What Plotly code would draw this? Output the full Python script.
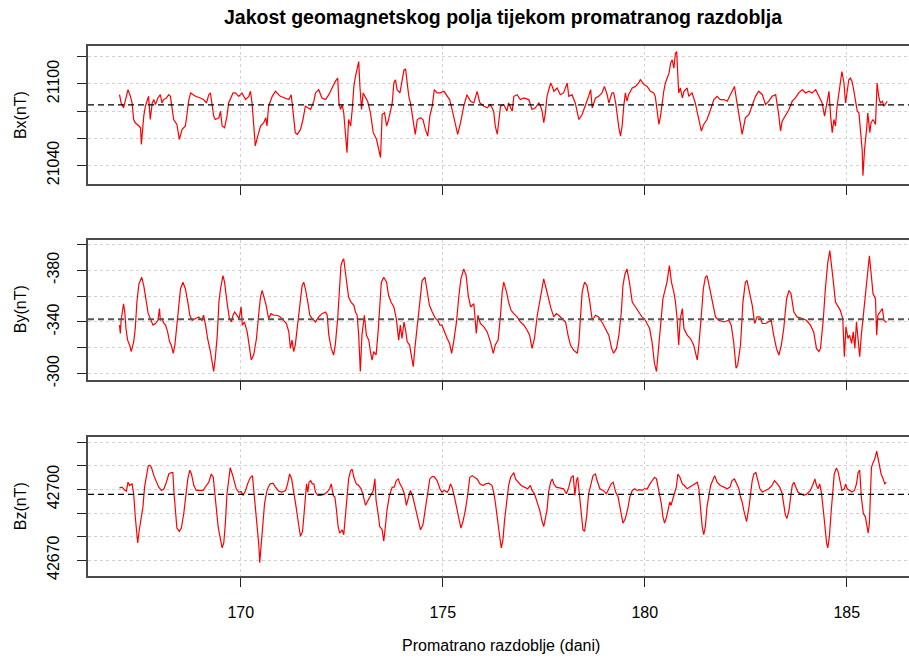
import plotly.graph_objects as go

# ---------------- data ----------------
bx_data = [
[167.00,21092.1],[167.04,21086.0],[167.10,21082.4],[167.15,21089.7],[167.21,21095.8],[167.27,21090.9],
[167.31,21086.0],[167.35,21073.8],[167.39,21071.4],[167.48,21069.0],[167.52,21067.7],[167.54,21055.5],
[167.57,21066.5],[167.60,21076.3],[167.64,21083.6],[167.68,21087.3],[167.72,21090.9],[167.76,21073.8],
[167.81,21086.0],[167.85,21088.5],[167.89,21084.8],[167.95,21089.7],[168.01,21092.1],[168.05,21086.0],
[168.09,21088.5],[168.16,21089.7],[168.22,21092.1],[168.26,21090.9],[168.30,21083.6],[168.34,21073.8],
[168.42,21070.2],[168.48,21059.2],[168.55,21066.5],[168.63,21069.0],[168.67,21077.5],[168.71,21087.3],
[168.76,21093.4],[168.88,21090.9],[169.00,21089.7],[169.08,21088.5],[169.15,21086.0],[169.21,21092.1],
[169.25,21093.4],[169.29,21086.0],[169.33,21076.3],[169.37,21073.8],[169.46,21075.1],[169.50,21079.9],
[169.54,21069.0],[169.60,21067.7],[169.66,21076.3],[169.70,21086.0],[169.75,21089.7],[169.81,21093.4],
[169.87,21093.4],[169.95,21090.9],[170.03,21093.4],[170.12,21088.5],[170.20,21090.9],[170.24,21094.6],
[170.28,21086.0],[170.32,21069.0],[170.36,21054.3],[170.40,21059.2],[170.49,21069.0],[170.57,21071.4],
[170.62,21075.1],[170.65,21069.0],[170.69,21083.6],[170.78,21090.9],[170.86,21094.6],[170.98,21090.9],
[171.11,21089.7],[171.19,21088.5],[171.25,21092.1],[171.30,21079.9],[171.35,21064.1],[171.40,21062.9],
[171.48,21066.5],[171.54,21073.8],[171.60,21083.6],[171.73,21081.2],[171.81,21087.3],[171.85,21093.4],
[171.93,21095.8],[172.01,21089.7],[172.10,21088.5],[172.18,21092.1],[172.26,21097.0],[172.34,21101.9],
[172.40,21104.3],[172.43,21086.0],[172.47,21081.2],[172.51,21084.8],[172.55,21078.7],[172.59,21066.5],
[172.63,21049.4],[172.67,21073.8],[172.72,21069.0],[172.76,21081.2],[172.80,21098.2],[172.84,21105.6],
[172.88,21110.4],[172.92,21116.5],[172.95,21098.2],[172.99,21081.2],[173.03,21093.4],[173.09,21089.7],
[173.14,21087.3],[173.21,21078.7],[173.28,21064.1],[173.36,21059.2],[173.42,21051.9],[173.46,21045.8],
[173.50,21077.5],[173.56,21078.7],[173.61,21069.0],[173.66,21073.8],[173.75,21086.0],[173.79,21100.7],
[173.83,21103.1],[173.87,21095.8],[173.94,21093.4],[173.99,21100.7],[174.04,21110.4],[174.08,21110.9],
[174.12,21098.2],[174.16,21090.9],[174.20,21086.0],[174.27,21071.4],[174.32,21062.9],[174.37,21073.8],
[174.45,21075.1],[174.51,21073.8],[174.57,21066.5],[174.63,21061.6],[174.68,21076.3],[174.74,21083.6],
[174.79,21095.8],[174.86,21093.4],[174.94,21093.4],[175.03,21094.6],[175.11,21090.9],[175.17,21088.5],
[175.23,21081.2],[175.31,21071.4],[175.37,21062.9],[175.44,21071.4],[175.52,21083.6],[175.60,21092.1],
[175.69,21087.3],[175.77,21086.0],[175.85,21094.6],[175.92,21086.0],[176.02,21083.6],[176.10,21082.4],
[176.18,21084.8],[176.26,21079.9],[176.30,21069.0],[176.35,21062.9],[176.39,21071.4],[176.43,21083.6],
[176.51,21084.8],[176.59,21079.9],[176.63,21086.0],[176.72,21079.9],[176.76,21090.9],[176.84,21092.1],
[176.92,21088.5],[177.01,21089.7],[177.13,21088.5],[177.21,21081.2],[177.29,21082.4],[177.38,21086.0],
[177.42,21083.6],[177.46,21079.9],[177.50,21071.4],[177.54,21078.7],[177.58,21090.9],[177.67,21100.7],
[177.71,21098.2],[177.75,21094.6],[177.83,21097.0],[177.91,21092.1],[177.99,21093.4],[178.08,21100.7],
[178.12,21090.9],[178.20,21092.1],[178.28,21086.0],[178.37,21073.8],[178.45,21077.5],[178.53,21083.6],
[178.61,21090.9],[178.66,21095.8],[178.70,21082.4],[178.78,21089.7],[178.86,21090.9],[178.94,21093.4],
[179.00,21098.2],[179.07,21092.1],[179.11,21086.0],[179.19,21093.4],[179.23,21093.4],[179.28,21086.0],
[179.32,21076.3],[179.36,21067.7],[179.40,21061.6],[179.44,21069.0],[179.48,21083.6],[179.52,21093.4],
[179.56,21087.3],[179.60,21092.1],[179.69,21097.0],[179.77,21098.2],[179.85,21100.7],[179.89,21103.1],
[179.98,21099.5],[180.06,21098.2],[180.14,21094.6],[180.22,21093.4],[180.26,21090.9],[180.31,21079.9],
[180.35,21070.2],[180.39,21076.3],[180.43,21086.0],[180.47,21094.6],[180.51,21100.7],[180.60,21108.0],
[180.64,21115.3],[180.68,21117.8],[180.72,21111.7],[180.76,21122.6],[180.79,21123.9],[180.82,21110.4],
[180.84,21093.4],[180.88,21097.0],[180.93,21089.7],[180.97,21094.6],[181.05,21097.0],[181.09,21090.9],
[181.17,21093.4],[181.25,21086.0],[181.34,21073.8],[181.40,21065.3],[181.46,21070.2],[181.54,21073.8],
[181.63,21081.2],[181.71,21088.5],[181.79,21090.9],[181.87,21088.5],[181.96,21088.5],[182.04,21087.3],
[182.12,21092.1],[182.22,21098.2],[182.27,21088.5],[182.33,21076.3],[182.41,21062.9],[182.45,21069.0],
[182.49,21075.1],[182.58,21077.5],[182.66,21084.8],[182.74,21090.9],[182.82,21094.6],[182.91,21092.1],
[182.99,21084.8],[183.07,21087.3],[183.15,21090.9],[183.24,21092.1],[183.32,21076.3],[183.36,21065.3],
[183.40,21072.6],[183.48,21076.3],[183.57,21081.2],[183.65,21087.3],[183.73,21089.7],[183.81,21093.4],
[183.90,21095.8],[183.98,21093.4],[184.06,21094.6],[184.14,21093.4],[184.23,21095.8],[184.31,21090.9],
[184.39,21086.0],[184.45,21076.3],[184.51,21087.3],[184.56,21094.6],[184.60,21076.3],[184.64,21064.1],
[184.68,21073.8],[184.72,21069.0],[184.76,21083.6],[184.80,21094.6],[184.84,21100.7],[184.88,21109.2],
[184.93,21100.7],[184.97,21086.0],[185.01,21093.4],[185.05,21103.1],[185.09,21104.3],[185.13,21101.9],
[185.17,21095.8],[185.22,21084.8],[185.26,21079.9],[185.30,21078.7],[185.34,21066.5],[185.38,21051.9],
[185.40,21032.4],[185.44,21051.9],[185.49,21066.5],[185.52,21078.7],[185.57,21064.1],[185.60,21071.4],
[185.65,21073.8],[185.71,21070.2],[185.75,21100.7],[185.79,21090.9],[185.83,21086.0],[185.88,21087.3],
[185.92,21083.6],[185.96,21086.0],[186.00,21087.3],
]

by_data = [
[167.00,-337.5],[167.02,-331.1],[167.04,-341.3],[167.06,-345.2],[167.10,-354.1],[167.13,-347.7],
[167.16,-334.9],[167.20,-325.9],[167.25,-322.1],[167.29,-317.0],[167.35,-324.6],[167.39,-334.9],
[167.43,-355.4],[167.48,-369.5],[167.52,-373.4],[167.55,-374.6],[167.60,-368.2],[167.66,-358.0],
[167.71,-346.4],[167.76,-342.6],[167.83,-337.5],[167.89,-338.8],[167.95,-341.3],[167.99,-350.3],
[168.01,-341.3],[168.05,-342.6],[168.10,-338.8],[168.14,-337.5],[168.19,-332.3],[168.24,-324.6],
[168.28,-322.1],[168.33,-315.7],[168.37,-322.1],[168.42,-337.5],[168.47,-355.4],[168.51,-365.7],
[168.57,-370.8],[168.63,-365.7],[168.69,-355.4],[168.74,-345.2],[168.80,-341.3],[168.88,-342.6],
[168.96,-343.9],[169.04,-341.3],[169.08,-345.2],[169.13,-337.5],[169.18,-327.2],[169.25,-317.0],
[169.32,-305.4],[169.33,-301.6],[169.37,-311.8],[169.42,-329.8],[169.46,-355.4],[169.50,-365.7],
[169.56,-375.9],[169.60,-370.8],[169.66,-355.4],[169.72,-342.6],[169.77,-340.0],[169.81,-345.2],
[169.85,-347.7],[169.91,-345.2],[169.96,-342.6],[170.01,-351.6],[170.04,-337.5],[170.09,-340.0],
[170.16,-332.3],[170.22,-319.5],[170.26,-310.5],[170.32,-314.4],[170.39,-327.2],[170.45,-347.7],
[170.49,-359.3],[170.53,-364.4],[170.57,-359.3],[170.63,-352.9],[170.69,-342.6],[170.75,-346.4],
[170.82,-345.2],[170.90,-345.2],[170.98,-343.9],[171.07,-341.3],[171.13,-338.8],[171.19,-332.3],
[171.23,-319.5],[171.27,-325.9],[171.31,-317.0],[171.35,-322.1],[171.41,-340.0],[171.48,-358.0],
[171.52,-368.2],[171.56,-370.8],[171.60,-365.7],[171.66,-355.4],[171.71,-345.2],[171.77,-342.6],
[171.85,-340.0],[171.93,-343.9],[172.01,-346.4],[172.10,-347.7],[172.14,-345.2],[172.18,-329.8],
[172.24,-319.5],[172.30,-314.4],[172.34,-322.1],[172.40,-342.6],[172.45,-368.2],[172.48,-383.6],
[172.52,-387.5],[172.55,-388.8],[172.59,-378.5],[172.63,-368.2],[172.67,-359.3],[172.73,-355.4],
[172.80,-352.9],[172.84,-347.7],[172.88,-345.2],[172.92,-329.8],[172.96,-301.6],[173.00,-329.8],
[173.03,-337.5],[173.06,-345.2],[173.11,-329.8],[173.17,-325.9],[173.21,-317.0],[173.25,-310.5],
[173.29,-317.0],[173.35,-314.4],[173.40,-332.3],[173.44,-355.4],[173.48,-370.8],[173.54,-374.6],
[173.61,-370.8],[173.66,-360.5],[173.72,-355.4],[173.79,-351.6],[173.85,-342.6],[173.91,-325.9],
[173.95,-337.5],[173.99,-327.2],[174.04,-340.0],[174.08,-333.6],[174.12,-324.6],[174.18,-322.1],
[174.23,-314.4],[174.27,-305.4],[174.31,-319.5],[174.37,-337.5],[174.43,-358.0],[174.49,-372.1],
[174.56,-374.6],[174.61,-363.1],[174.67,-352.9],[174.74,-347.7],[174.82,-342.6],[174.88,-341.3],
[174.93,-337.5],[174.98,-337.5],[175.05,-331.1],[175.11,-327.2],[175.17,-323.4],[175.22,-315.7],
[175.27,-324.6],[175.34,-340.0],[175.40,-360.5],[175.45,-373.4],[175.52,-381.1],[175.58,-375.9],
[175.63,-360.5],[175.69,-351.6],[175.77,-354.1],[175.83,-331.1],[175.87,-345.2],[175.93,-338.8],
[176.02,-336.2],[176.10,-332.3],[176.18,-324.6],[176.25,-315.7],[176.30,-322.1],[176.37,-325.9],
[176.43,-345.2],[176.47,-363.1],[176.51,-370.8],[176.58,-363.1],[176.63,-355.4],[176.69,-349.0],
[176.76,-346.4],[176.84,-343.9],[176.92,-340.0],[177.01,-337.5],[177.09,-333.6],[177.15,-329.8],
[177.21,-319.5],[177.27,-327.2],[177.34,-345.2],[177.40,-355.4],[177.46,-368.2],[177.50,-373.4],
[177.56,-365.7],[177.62,-358.0],[177.68,-350.3],[177.75,-343.9],[177.81,-346.4],[177.87,-345.2],
[177.95,-342.6],[178.04,-340.0],[178.10,-329.8],[178.16,-322.1],[178.24,-318.2],[178.33,-315.7],
[178.37,-324.6],[178.41,-342.6],[178.45,-363.1],[178.51,-370.8],[178.57,-368.2],[178.64,-355.4],
[178.70,-341.3],[178.78,-345.2],[178.86,-343.9],[178.94,-340.0],[179.03,-334.9],[179.11,-329.8],
[179.18,-319.5],[179.23,-315.7],[179.30,-319.5],[179.36,-329.8],[179.42,-347.7],[179.46,-368.2],
[179.51,-377.2],[179.56,-381.1],[179.62,-370.8],[179.69,-355.4],[179.77,-351.6],[179.85,-347.7],
[179.93,-343.9],[179.99,-342.6],[180.06,-338.8],[180.12,-334.9],[180.18,-324.6],[180.24,-308.0],
[180.29,-301.6],[180.33,-314.4],[180.39,-337.5],[180.45,-358.0],[180.50,-364.4],[180.55,-370.8],
[180.61,-383.6],[180.66,-370.8],[180.72,-363.1],[180.76,-355.4],[180.80,-342.6],[180.84,-322.1],
[180.88,-342.6],[180.93,-350.3],[180.97,-334.9],[181.05,-329.8],[181.13,-327.2],[181.21,-322.1],
[181.30,-310.5],[181.34,-322.1],[181.40,-345.2],[181.45,-365.7],[181.50,-374.6],[181.54,-375.9],
[181.61,-365.7],[181.67,-355.4],[181.75,-343.9],[181.83,-341.3],[181.96,-340.0],[182.08,-341.3],
[182.14,-337.5],[182.20,-324.6],[182.26,-304.1],[182.30,-306.7],[182.37,-322.1],[182.43,-355.4],
[182.49,-370.8],[182.53,-372.1],[182.60,-360.5],[182.66,-352.9],[182.72,-338.8],[182.78,-343.9],
[182.85,-343.9],[182.91,-338.8],[182.99,-338.8],[183.07,-340.0],[183.13,-341.3],[183.19,-329.8],
[183.26,-319.5],[183.32,-314.4],[183.38,-322.1],[183.44,-334.9],[183.51,-358.0],[183.57,-364.4],
[183.62,-361.8],[183.69,-347.7],[183.77,-343.9],[183.90,-342.6],[184.00,-341.3],[184.10,-337.5],
[184.18,-332.3],[184.25,-319.5],[184.31,-317.0],[184.35,-319.5],[184.42,-342.6],[184.47,-365.7],
[184.53,-386.2],[184.58,-395.2],[184.62,-386.2],[184.66,-373.4],[184.72,-355.4],[184.78,-351.6],
[184.84,-349.0],[184.90,-342.6],[184.94,-313.1],[184.98,-336.2],[185.03,-327.2],[185.07,-329.8],
[185.12,-323.4],[185.16,-332.3],[185.20,-319.5],[185.24,-340.0],[185.28,-324.6],[185.32,-313.1],
[185.36,-329.8],[185.42,-347.7],[185.48,-368.2],[185.52,-378.5],[185.56,-391.3],[185.60,-378.5],
[185.65,-361.8],[185.71,-358.0],[185.74,-329.8],[185.77,-345.2],[185.83,-347.7],[185.88,-350.3],
[185.92,-341.3],[185.98,-339.5],
]

bz_data = [
[167.00,42700.7],[167.06,42701.0],[167.12,42699.9],[167.17,42699.3],[167.21,42703.1],[167.25,42701.7],
[167.31,42702.4],[167.35,42698.2],[167.39,42688.4],[167.42,42682.9],[167.45,42677.3],[167.49,42682.9],
[167.53,42687.0],[167.58,42692.6],[167.62,42701.0],[167.67,42706.6],[167.71,42710.0],[167.75,42710.3],
[167.79,42709.3],[167.85,42705.9],[167.91,42703.1],[167.97,42701.0],[168.04,42699.6],[168.10,42700.3],
[168.16,42703.1],[168.22,42706.6],[168.28,42707.2],[168.32,42707.2],[168.35,42698.2],[168.38,42689.8],
[168.42,42683.6],[168.48,42682.2],[168.53,42683.6],[168.59,42689.8],[168.64,42696.8],[168.69,42704.5],
[168.74,42708.2],[168.78,42706.6],[168.84,42701.7],[168.90,42699.6],[168.99,42699.6],[169.07,42699.6],
[169.15,42701.7],[169.21,42703.1],[169.27,42706.6],[169.32,42705.2],[169.36,42698.2],[169.40,42691.2],
[169.44,42684.3],[169.50,42678.7],[169.54,42675.2],[169.58,42677.3],[169.62,42685.7],[169.66,42698.2],
[169.70,42704.5],[169.74,42709.3],[169.79,42706.6],[169.84,42703.1],[169.89,42700.3],[169.95,42698.9],
[170.01,42699.2],[170.06,42697.5],[170.12,42699.6],[170.17,42702.4],[170.24,42705.2],[170.29,42705.9],
[170.32,42700.3],[170.36,42693.3],[170.40,42684.3],[170.45,42675.9],[170.47,42668.9],[170.50,42675.9],
[170.55,42684.3],[170.59,42694.0],[170.64,42698.9],[170.68,42701.0],[170.73,42702.4],[170.80,42702.7],
[170.86,42701.0],[170.94,42699.3],[171.02,42698.9],[171.11,42699.6],[171.16,42702.4],[171.21,42706.6],
[171.26,42704.5],[171.31,42698.2],[171.37,42692.6],[171.44,42684.3],[171.48,42680.1],[171.53,42682.2],
[171.58,42691.2],[171.63,42702.4],[171.66,42698.9],[171.69,42703.1],[171.73,42703.8],[171.77,42702.4],
[171.81,42702.4],[171.85,42698.9],[171.91,42697.5],[171.97,42697.5],[172.06,42697.9],[172.14,42698.9],
[172.20,42700.3],[172.24,42702.4],[172.29,42697.5],[172.33,42696.8],[172.37,42691.2],[172.41,42684.3],
[172.45,42681.5],[172.51,42682.9],[172.55,42680.8],[172.59,42689.8],[172.63,42698.9],[172.67,42704.5],
[172.72,42707.9],[172.76,42708.6],[172.80,42705.2],[172.86,42702.4],[172.92,42701.7],[172.98,42700.3],
[173.03,42697.5],[173.09,42693.3],[173.13,42694.7],[173.19,42696.8],[173.24,42698.2],[173.28,42699.6],
[173.32,42704.5],[173.35,42695.4],[173.40,42689.8],[173.44,42684.3],[173.50,42682.9],[173.54,42678.0],
[173.58,42684.3],[173.62,42691.2],[173.68,42697.5],[173.75,42701.0],[173.80,42701.0],[173.85,42703.8],
[173.90,42704.5],[173.94,42702.4],[173.99,42701.0],[174.05,42698.2],[174.10,42693.3],[174.14,42696.1],
[174.20,42699.6],[174.26,42696.8],[174.32,42692.6],[174.38,42688.4],[174.45,42682.9],[174.51,42685.0],
[174.57,42691.9],[174.63,42700.3],[174.68,42704.5],[174.74,42705.6],[174.79,42705.4],[174.86,42703.8],
[174.93,42700.3],[174.98,42698.9],[175.04,42699.6],[175.11,42698.9],[175.15,42699.9],[175.19,42702.4],
[175.23,42701.0],[175.29,42696.8],[175.34,42692.6],[175.40,42687.0],[175.45,42683.6],[175.50,42686.4],
[175.56,42691.2],[175.62,42698.2],[175.67,42705.2],[175.73,42705.9],[175.78,42705.2],[175.85,42704.5],
[175.92,42702.4],[176.00,42701.7],[176.06,42702.4],[176.14,42702.7],[176.22,42701.7],[176.26,42698.9],
[176.30,42694.7],[176.35,42687.0],[176.39,42681.5],[176.43,42677.3],[176.45,42675.2],[176.49,42678.7],
[176.53,42687.0],[176.58,42695.4],[176.63,42701.7],[176.68,42705.2],[176.73,42706.6],[176.76,42707.2],
[176.80,42704.5],[176.86,42703.1],[176.94,42701.7],[177.02,42701.0],[177.10,42700.3],[177.17,42701.7],
[177.21,42699.6],[177.27,42698.2],[177.34,42694.7],[177.40,42691.2],[177.46,42686.4],[177.50,42684.3],
[177.54,42687.7],[177.58,42691.2],[177.62,42698.9],[177.67,42703.1],[177.71,42704.5],[177.75,42702.4],
[177.81,42701.0],[177.90,42700.7],[177.99,42700.3],[178.06,42698.2],[178.12,42701.0],[178.18,42705.2],
[178.23,42705.9],[178.27,42697.5],[178.31,42703.8],[178.34,42705.2],[178.39,42696.8],[178.43,42689.8],
[178.47,42682.9],[178.51,42682.2],[178.56,42688.4],[178.61,42698.2],[178.67,42702.4],[178.72,42705.9],
[178.78,42706.6],[178.82,42703.8],[178.89,42700.3],[178.97,42699.6],[179.05,42698.2],[179.11,42700.3],
[179.17,42702.4],[179.22,42703.1],[179.28,42698.9],[179.34,42696.8],[179.38,42693.3],[179.42,42688.4],
[179.46,42685.7],[179.52,42687.7],[179.58,42691.9],[179.63,42696.8],[179.69,42699.6],[179.75,42700.3],
[179.81,42699.6],[179.88,42699.9],[179.93,42699.6],[179.99,42700.3],[180.06,42700.3],[180.13,42702.4],
[180.18,42703.8],[180.24,42705.2],[180.29,42704.5],[180.35,42699.6],[180.41,42694.0],[180.45,42688.4],
[180.49,42685.7],[180.54,42688.4],[180.57,42691.2],[180.62,42694.7],[180.65,42693.3],[180.70,42696.1],
[180.74,42698.9],[180.78,42701.0],[180.82,42706.6],[180.87,42705.2],[180.93,42702.4],[180.98,42701.7],
[181.05,42700.3],[181.11,42701.0],[181.17,42701.7],[181.23,42702.4],[181.30,42703.1],[181.34,42700.3],
[181.38,42691.2],[181.42,42684.3],[181.46,42680.8],[181.50,42684.3],[181.54,42692.6],[181.59,42698.9],
[181.63,42701.7],[181.68,42703.8],[181.73,42705.9],[181.79,42703.1],[181.87,42701.7],[181.96,42701.0],
[182.04,42700.3],[182.11,42701.0],[182.16,42703.8],[182.22,42704.5],[182.27,42702.4],[182.33,42700.3],
[182.37,42696.8],[182.41,42694.7],[182.45,42691.2],[182.49,42688.4],[182.52,42686.4],[182.58,42692.6],
[182.62,42698.2],[182.66,42703.8],[182.70,42706.6],[182.75,42707.2],[182.80,42703.8],[182.85,42700.3],
[182.91,42698.9],[182.99,42699.6],[183.07,42700.3],[183.15,42701.7],[183.21,42703.8],[183.28,42702.4],
[183.34,42701.0],[183.40,42698.2],[183.44,42693.3],[183.48,42689.1],[183.52,42687.7],[183.57,42691.2],
[183.61,42696.8],[183.65,42701.7],[183.69,42703.1],[183.73,42701.7],[183.79,42698.9],[183.85,42698.2],
[183.94,42697.5],[184.02,42698.2],[184.10,42699.6],[184.17,42702.4],[184.21,42704.5],[184.25,42701.7],
[184.29,42700.3],[184.33,42702.4],[184.37,42698.9],[184.42,42691.2],[184.46,42682.9],[184.50,42677.3],
[184.53,42675.2],[184.57,42680.1],[184.61,42689.8],[184.65,42700.3],[184.69,42706.6],[184.74,42709.1],
[184.78,42707.9],[184.83,42703.8],[184.88,42699.6],[184.94,42700.3],[184.97,42702.4],[185.01,42700.3],
[185.08,42699.6],[185.13,42698.9],[185.19,42699.6],[185.24,42702.4],[185.28,42707.2],[185.32,42708.2],
[185.36,42696.8],[185.41,42689.8],[185.46,42688.4],[185.50,42684.3],[185.53,42681.5],[185.56,42685.7],
[185.59,42696.8],[185.61,42709.3],[185.65,42711.4],[185.69,42712.8],[185.74,42716.3],[185.77,42713.5],
[185.81,42709.3],[185.85,42706.6],[185.90,42704.5],[185.94,42702.4],[185.98,42703.1],
]

bx_mean = 21084.6
by_mean = -342.1
bz_mean = 42697.9

x_ticks = [170, 175, 180, 185]
bx_ticks = [21040, 21060, 21080, 21100, 21120]
bx_ticktext = ["21040", "", "", "21100", ""]
by_ticks = [-400, -380, -360, -340, -320, -300]
by_ticktext = ["", "-380", "", "-340", "", "-300"]
bz_ticks = [42670, 42680, 42690, 42700, 42710, 42720]
bz_ticktext = ["42670", "", "", "42700", "", ""]

title_text = "Jakost geomagnetskog polja tijekom promatranog razdoblja"
x_title = "Promatrano razdoblje (dani)"
y_titles = ["Bx(nT)", "By(nT)", "Bz(nT)"]

# ---------------- figure ----------------
W, H = 909, 659
FONT = "Liberation Sans, Arial, Helvetica, sans-serif"
GRID = "#d2d2d2"
BOX = "#4a4a4a"

series = [bx_data, by_data, bz_data]
means = [bx_mean, by_mean, bz_mean]

fig = go.Figure()
for i, data in enumerate(series):
    sfx = "" if i == 0 else str(i + 1)
    fig.add_trace(go.Scatter(
        x=[p[0] for p in data], y=[p[1] for p in data],
        mode="lines", line=dict(color="#ff0000", width=1.2),
        xaxis="x" + sfx, yaxis="y" + sfx, showlegend=False, hoverinfo="skip"))
    fig.add_shape(type="line", xref="x" + sfx + " domain", yref="y" + sfx,
                  x0=0, x1=1, y0=means[i], y1=means[i],
                  line=dict(color="#000000" if i != 1 else "#555555",
                            width=1.2 if i != 1 else 1.8, dash="6px,4px"))

x_range = [166.22, 186.54]
y_ranges = [[21026.1, 21128.3], [-295.4, -403.8], [42663.2, 42722.1]]
y_domains = [[0.7170, 0.9300], [0.4170, 0.6320], [0.1150, 0.3280]]
y_tickvals = [bx_ticks, by_ticks, bz_ticks]
y_ticktexts = [bx_ticktext, by_ticktext, bz_ticktext]

layout = dict(
    width=W, height=H,
    margin=dict(l=88, r=0, t=0, b=0),
    paper_bgcolor="white", plot_bgcolor="white",
    font=dict(family=FONT, size=16, color="#000000"),
    showlegend=False,
)
for i in range(3):
    sfx = "" if i == 0 else str(i + 1)
    layout["xaxis" + sfx] = dict(
        domain=[0, 1], anchor="y" + sfx, range=x_range,
        tickmode="array", tickvals=x_ticks, ticktext=[str(t) for t in x_ticks],
        showticklabels=(i == 2), ticks="outside", ticklen=9, tickwidth=1.3, tickcolor="#222222",
        showgrid=True, gridcolor=GRID, griddash="dot", gridwidth=1,
        showline=True, linecolor=BOX, linewidth=1.6, mirror=True,
        zeroline=False, ticklabelstandoff=12,
        tickfont=dict(family=FONT, size=16, color="#000000"),
    )
    layout["yaxis" + sfx] = dict(
        domain=y_domains[i], anchor="x" + sfx, range=y_ranges[i],
        tickmode="array", tickvals=y_tickvals[i], ticktext=y_ticktexts[i],
        tickangle=-90, ticks="outside", ticklen=9, tickwidth=1.3, tickcolor="#222222",
        showgrid=True, gridcolor=GRID, griddash="dot", gridwidth=1,
        showline=True, linecolor=BOX, linewidth=1.6, mirror=False,
        zeroline=False, ticklabelstandoff=12,
        tickfont=dict(family=FONT, size=16, color="#000000"),
    )
fig.update_layout(**layout)

ann = [
    dict(text="<b>" + title_text + "</b>", x=(503 - 88) / 821, y=1 - 17 / H,
         font=dict(size=19.5, family=FONT, color="#000000")),
    dict(text=x_title, x=(501 - 88) / 821, y=1 - 653 / H,
         font=dict(size=16, family=FONT, color="#000000")),
]
for t, yc in zip(y_titles, [116.5, 313.0, 512.5]):
    ann.append(dict(text=t, x=(20 - 88) / 821, y=1 - yc / H, textangle=-90,
                    font=dict(size=16, family=FONT, color="#000000")))
for a in ann:
    a.update(xref="paper", yref="paper", showarrow=False, xanchor="center", yanchor="middle")
fig.update_layout(annotations=ann)

fig.write_html("out.html", config={"displayModeBar": False},
               post_script="document.body.style.margin='0';document.body.style.overflow='hidden';")
